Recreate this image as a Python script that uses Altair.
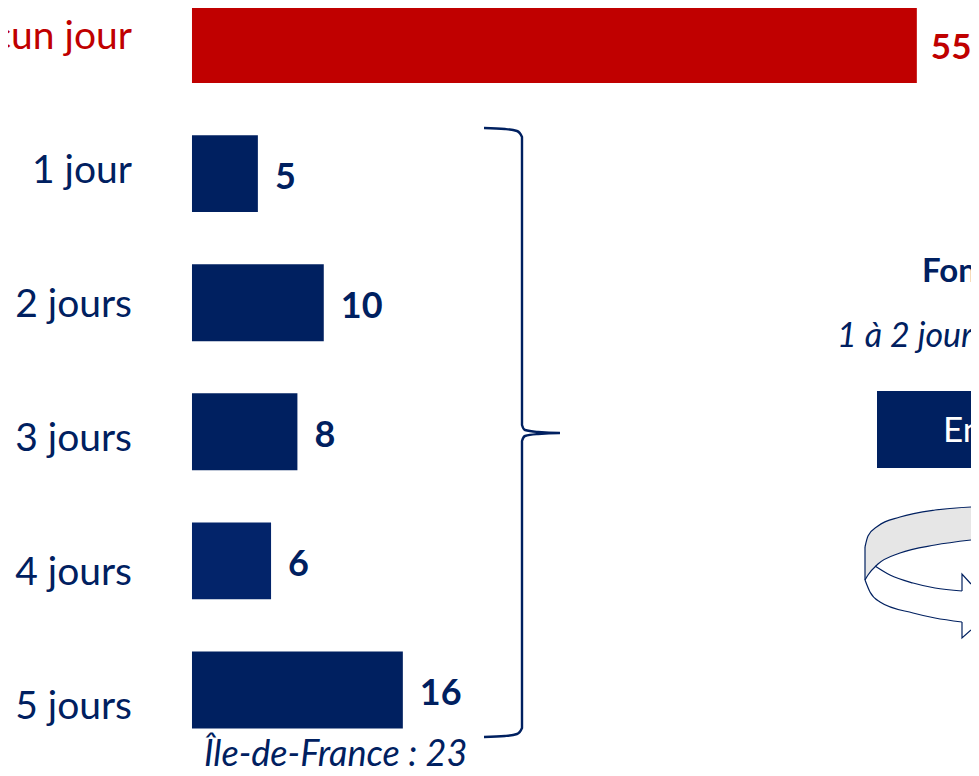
import altair as alt
import pandas as pd

NAVY = "#002060"
RED = "#C00000"
FONT = "Lato"
OFF = 8

categories = ["Aucun jour", "1 jour", "2 jours", "3 jours", "4 jours", "5 jours"]
values = [55, 5, 10, 8, 6, 16]
bar_colors = [RED, NAVY, NAVY, NAVY, "#03246A", NAVY]
label_colors = [RED, NAVY, NAVY, NAVY, NAVY, NAVY]

brace_x = [484, 505, 517, 522, 522, 525, 538, 560, 538, 525, 522, 522, 517, 505, 484]
brace_y = [128, 129, 131, 137, 425, 430, 432, 433, 434, 436, 441, 728, 734, 736, 737]

notes = ["Fon", "1 à 2 jour", "En", "Île-de-France : 23"]
note_x = [922, 837, 943, 204]
note_y = [272, 337, 431, 755]
note_weight = ["bold", "normal", "normal", "normal"]
note_style = ["normal", "italic", "normal", "italic"]
note_color = [NAVY, NAVY, "white", NAVY]
note_size = [33, 34, 35, 36]

band_x = [865, 868, 878, 900, 935, 971]
band_top = [547, 536, 526, 517, 510, 507]
band_bot = [580, 575, 564, 553, 545, 540]

arrow_segments = {
    "inner": ([875, 890, 913, 935, 962], [566, 575, 583, 588, 591]),
    "outer": ([865, 870, 880, 913, 935, 962], [580, 592, 602, 613, 618, 622]),
    "head1": ([962, 962, 971], [591, 574, 584]),
    "head2": ([962, 962, 971], [622, 638, 630]),
    "left": ([865, 865], [547, 580]),
}

df = pd.DataFrame({"cat": categories, "value": values, "bar": bar_colors, "lab": label_colors})
x_scale = alt.Scale(domain=[-13.96, 59.11], nice=False, zero=False)
y_scale = alt.Scale(domain=categories, range=[-28.05, 746.55], paddingInner=0.404, paddingOuter=0.202)

x_field = alt.X("value:Q", scale=x_scale, axis=None)
y_field = alt.Y("cat:N", sort=categories, scale=y_scale, axis=None)

bars = alt.Chart(df).mark_bar(cornerRadius=0).encode(
    x=x_field, y=y_field, color=alt.Color("bar:N", scale=None, legend=None)
)
value_text = alt.Chart(df[df.cat != categories[0]]).mark_text(
    align="left", baseline="middle", dx=17, dy=4, font=FONT, fontWeight="bold", fontSize=36
).encode(x=x_field, y=y_field, text="value:Q", color=alt.Color("lab:N", scale=None, legend=None))
top_value_text = alt.Chart(df[df.cat == categories[0]]).mark_text(
    align="left", baseline="middle", dx=14, dy=3, font=FONT, fontWeight="bold", fontSize=35
).encode(x=x_field, y=y_field, text="value:Q", color=alt.Color("lab:N", scale=None, legend=None))

cat_text = alt.Chart(df).mark_text(
    align="right", baseline="middle", font=FONT, fontSize=39
).encode(
    x=alt.value(132 - OFF),
    y=alt.Y("cat:N", sort=categories, axis=None,
            scale=alt.Scale(type="point", domain=categories, range=[29, 699], padding=0)),
    text="cat:N",
    color=alt.Color("lab:N", scale=None, legend=None),
)

px = lambda f: alt.X(f + ":Q", scale=None, axis=None)
py = lambda f: alt.Y(f + ":Q", scale=None, axis=None)

brace_df = pd.DataFrame({"px": [v - OFF for v in brace_x], "py": [v - OFF for v in brace_y],
                         "o": list(range(len(brace_x)))})
brace = alt.Chart(brace_df).mark_line(color=NAVY, strokeWidth=2.4, interpolate="monotone").encode(
    x=px("px"), y=py("py"), order="o:Q"
)

band_df = pd.DataFrame({"px": [v - OFF for v in band_x], "py": [v - OFF for v in band_top],
                        "py2": [v - OFF for v in band_bot]})
band = alt.Chart(band_df).mark_area(color="#E6E6E6", interpolate="monotone").encode(
    x=px("px"), y=py("py"), y2="py2:Q"
)

rows = []
for name, (xs, ys) in arrow_segments.items():
    for i, (a, b) in enumerate(zip(xs, ys)):
        rows.append({"seg": name, "px": a - OFF, "py": b - OFF, "o": i})
for name, ys in (("top", band_top), ("bot", band_bot)):
    for i, (a, b) in enumerate(zip(band_x, ys)):
        rows.append({"seg": name, "px": a - OFF, "py": b - OFF, "o": i})
arrow_df = pd.DataFrame(rows)
straight = ["head1", "head2", "left"]
arrow_curve = alt.Chart(arrow_df[~arrow_df.seg.isin(straight)]).mark_line(
    color=NAVY, strokeWidth=1.2, interpolate="monotone"
).encode(x=px("px"), y=py("py"), detail="seg:N", order="o:Q")
arrow_straight = alt.Chart(arrow_df[arrow_df.seg.isin(straight)]).mark_line(
    color=NAVY, strokeWidth=1.2
).encode(x=px("px"), y=py("py"), detail="seg:N", order="o:Q")

box_df = pd.DataFrame({"px": [877 - OFF], "px2": [971 - OFF], "py": [391 - OFF], "py2": [468 - OFF]})
box = alt.Chart(box_df).mark_rect(color=NAVY).encode(
    x=px("px"), x2="px2:Q", y=py("py"), y2="py2:Q"
)

notes_df = pd.DataFrame({
    "t": notes, "px": [v - OFF for v in note_x], "py": [v - OFF for v in note_y],
    "w": note_weight, "s": note_style, "c": note_color, "fs": note_size,
})
note_layers = [
    alt.Chart(notes_df[notes_df.t == t]).mark_text(
        align="left", baseline="middle", font=FONT,
        fontWeight=r.w, fontStyle=r.s, fontSize=int(r.fs), color=r.c
    ).encode(x=px("px"), y=py("py"), text="t:N")
    for t, r in notes_df.set_index("t", drop=False).iterrows()
]

chart = alt.layer(
    bars, value_text, top_value_text, cat_text, brace, band, arrow_curve, arrow_straight, box, *note_layers
).resolve_scale(x="independent", y="independent", color="independent").properties(
    width=963, height=760, padding=0, autosize=alt.AutoSizeParams(type="none")
).configure_view(stroke=None)

chart.save("out.html", embed_options={"renderer": "svg", "actions": False})
